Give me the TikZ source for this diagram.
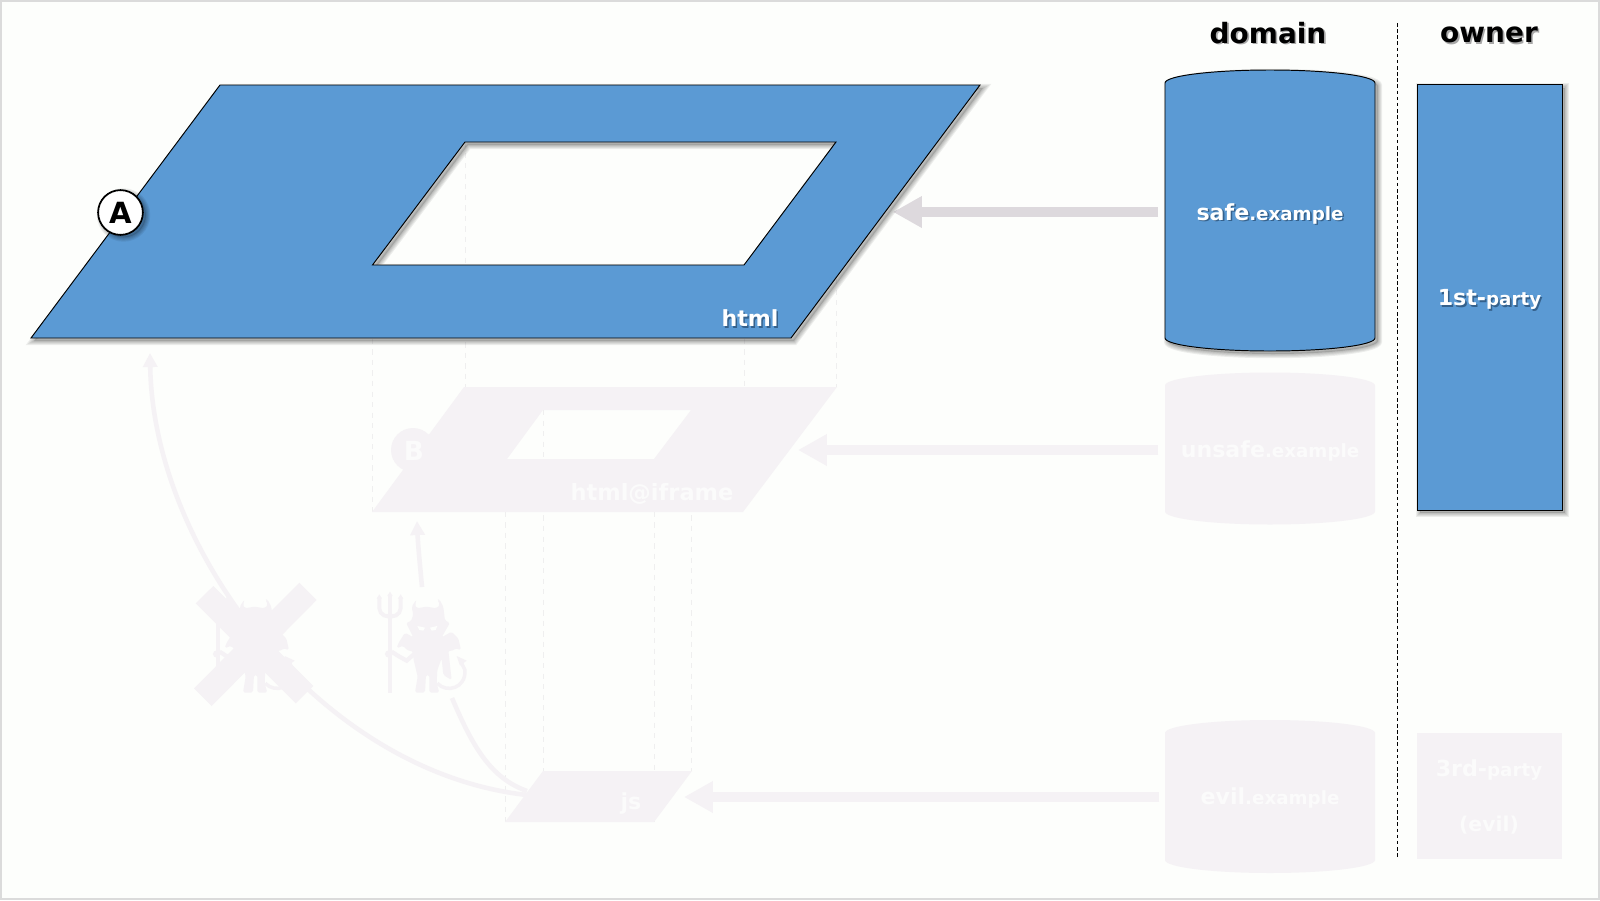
\documentclass[tikz,border=0pt]{standalone}
\usepackage{fontspec}
\setmainfont{DejaVu Sans}
\usetikzlibrary{arrows.meta}
\definecolor{bgc}{HTML}{FDFEFC}
\definecolor{bluec}{HTML}{5B9AD4}
\definecolor{faintc}{HTML}{F5F2F5}
\definecolor{ftxt}{HTML}{FBFBFB}
\definecolor{arrowc}{HTML}{DDD9DD}
\definecolor{guidec}{HTML}{EFEFEF}
\definecolor{tshb}{HTML}{35618C}
\definecolor{tshk}{HTML}{A8A8A8}
\newcommand\bigsz{\fontsize{12.6}{15}\selectfont\bfseries}
\newcommand\smlsz{\fontsize{10.4}{15}\selectfont\bfseries}
\newcommand\headsz{\fontsize{15.9}{19}\selectfont\bfseries}
% text carrying its own drop shadow
\newcommand\shtxt[2]{\leavevmode\rlap{\kern0.9pt\raisebox{-0.9pt}{\textcolor{#1}{#2}}}#2}
\newcommand\softshadow[1]{%
  \begin{scope}[shift={(3,3)}]
    \fill[black,opacity=.14,even odd rule] #1;
    \foreach \w in {1.2,2.4,3.6,4.8}{\draw[black,opacity=.065,line width=\w pt] #1;}
  \end{scope}}
\newcommand\cylpath[2]{(1165,#1+13) .. controls (1165,#1+5.8) and (1212,#1) .. (1270,#1) .. controls (1328,#1) and (1375,#1+5.8) .. (1375,#1+13) -- (1375,#2-13) .. controls (1375,#2-5.8) and (1328,#2) .. (1270,#2) .. controls (1212,#2) and (1165,#2-5.8) .. (1165,#2-13) -- cycle}
\newcommand\devilfig[1]{%
  \begin{scope}[shift={(#1,500)},x=0.02cm/3,y=-0.02cm/3]
    % trident
    \draw[devilline] (720,345) -- (720,578);
    \draw[devilline] (688,292) -- (688,325) .. controls (688,345) and (715,355) .. (720,345) .. controls (725,355) and (752,345) .. (752,325) -- (752,292);
    \draw[devilline] (720,345) -- (720,285);
    \fill[faintc] (680,296) -- (688,283) -- (696,296) -- cycle (712,288) -- (720,275) -- (728,288) -- cycle (744,296) -- (752,283) -- (760,296) -- cycle;
    \fill[faintc] (716,462) circle[radius=11];
    % arm
    \draw[devilline,line width=2.4pt] (725,455) -- (745,468) -- (770,482) -- (795,460);
    % body
    \fill[faintc,rounded corners=1pt] (800,298) -- (785,320) -- (790,345) -- (782,365) -- (768,368) -- (790,412) -- (765,398) -- (745,430) -- (740,445) -- (760,437) -- (770,450) -- (790,455) -- (790,475) -- (803,530) -- (795,578) -- (825,578) -- (828,525) -- (838,525) -- (838,578) -- (868,578) -- (860,550) -- (862,510) -- (875,475) -- (880,525) -- (905,540) -- (895,450) -- (905,455) -- (915,445) -- (933,450) -- (925,415) -- (905,395) -- (875,412) -- (900,368) -- (885,362) -- (880,320) -- (868,298) -- (862,298) -- (870,315) -- (860,325) -- (830,320) -- (800,325) -- (795,315) -- cycle;
    % eyes
    \fill[bgc] (802,378) -- (825,383) -- (820,392) -- (808,390) -- cycle (862,378) -- (840,383) -- (845,392) -- (857,390) -- cycle;
    % tail
    \draw[devilline,line width=2pt] (862,550) .. controls (890,580) and (948,565) .. (945,510) -- (935,490);
    \fill[faintc] (920,468) -- (950,482) -- (930,497) -- cycle;
  \end{scope}}
\tikzset{
  devilline/.style={faintc,line width=2.2pt},
  guide/.style={guidec,line width=0.5pt,dash pattern=on 3pt off 3pt},
  bigarrow/.style={line width=5.67pt,-{Triangle[length=16.5pt,width=17pt]}},
  thinarrow/.style={faintc,line width=2.6pt,-{Triangle[length=8pt,width=8pt]}},
  curveline/.style={faintc,line width=2.6pt},
  lbl/.style={inner sep=0pt,outer sep=0pt,anchor=center},
  solid box/.style={fill=bluec,draw=black,line width=0.55pt,even odd rule}
}
\begin{document}
\begin{tikzpicture}[x=0.02cm,y=-0.02cm]
\useasboundingbox (0,0) rectangle (1600,900);
\fill[bgc] (0,0) rectangle (1600,900);
\draw[color=black!14,line width=0.9pt] (0.8,0.8) rectangle (1599.2,899.2);

% projection guides
\draw[guide] (372.5,265) -- (372.5,512);
\draw[guide] (465,142) -- (465,387);
\draw[guide] (744,265) -- (744,387);
\draw[guide] (836,142) -- (836,387);
\draw[guide] (505,459) -- (505,822);
\draw[guide] (543,410) -- (543,771);
\draw[guide] (654,459) -- (654,822);
\draw[guide] (691,410) -- (691,771);

\coordinate (safeOut) at (1158,212);
\coordinate (htmlIn) at (893,212);
\coordinate (unsafeOut) at (1158,450);
\coordinate (iframeIn) at (798,450);
\coordinate (evilOut) at (1159,797);
\coordinate (jsIn) at (684,797);
\coordinate (jsLeft) at (527,795);
\coordinate (jsLeftB) at (527,791);
\coordinate (htmlUnder) at (150,353);
\coordinate (devilFoot) at (452,698);
\coordinate (devilHead) at (422,587);
\coordinate (iframeUnder) at (417,521);

% faint shapes
\fill[faintc,even odd rule] (464,387) -- (837,387) -- (743,512) -- (372,512) -- cycle (543,410) -- (691,410) -- (654,459) -- (507,459) -- cycle;
\fill[faintc] (413,450) circle[radius=22];
\fill[faintc] (543,771) -- (692,771) -- (654,822) -- (505,822) -- cycle;

% arrows
\draw[bigarrow,arrowc] (safeOut) -- (htmlIn);
\draw[bigarrow,faintc] (unsafeOut) -- (iframeIn);
\draw[bigarrow,faintc] (evilOut) -- (jsIn);
\draw[thinarrow] (jsLeft) .. controls (320,772) and (153,550) .. (htmlUnder);
\draw[curveline] (jsLeftB) .. controls (490,778) and (472,745) .. (devilFoot);
\draw[thinarrow] (devilHead) .. controls (420,565) and (418,545) .. (iframeUnder);

% devils and cross
\devilfig{150}
\devilfig{-22}
\fill[faintc] (299.3,582.7) -- (316.7,600) -- (211.7,706) -- (194,688.3) -- cycle;
\fill[faintc] (213.3,586) -- (195.7,603.3) -- (295.7,703.3) -- (313.3,686) -- cycle;

% html plane
\def\pathA{(220,85) -- (980,85) -- (791,338) -- (31,338) -- cycle (465,142) -- (836,142) -- (744,265) -- (372.5,265) -- cycle}
\softshadow{\pathA}
\path[solid box] \pathA;

% domains
\softshadow{\cylpath{70}{351}}
\path[solid box] \cylpath{70}{351};
\fill[faintc] \cylpath{372.5}{524.5};
\fill[faintc] \cylpath{720}{873};

% owner
\softshadow{(1417,84.5) rectangle (1562,510)}
\path[solid box] (1417,84.5) rectangle (1562,510);
\fill[faintc] (1417,733) rectangle (1562,859);

\draw[black,line width=0.5pt,dash pattern=on 2pt off 1.5pt] (1397,23) -- (1397,858);

% badge A
\softshadow{(120.5,212) circle[radius=22.5]}
\node[draw=black,fill=white,circle,line width=1pt,minimum size=25.5pt,inner sep=0pt,font=\fontsize{16.6}{19}\selectfont\bfseries] (badgeA) at (120.5,212.5) {A};
\node[lbl,text=ftxt,font=\fontsize{15}{18}\selectfont\bfseries] (badgeB) at (414,451) {B};

% labels
\node[lbl,font=\headsz] (headDomain) at (1268,33.5) {\shtxt{tshk}{domain}};
\node[lbl,font=\headsz] (headOwner) at (1489,36) {\shtxt{tshk}{owner}};
\node[lbl,text=white,font=\bigsz] (lblHtml) at (750,319) {\shtxt{tshb}{html}};
\node[lbl,text=white] (lblSafe) at (1270,214.5) {\shtxt{tshb}{\bigsz safe\smlsz .example}};
\node[lbl,text=white] (lblFirst) at (1489.5,300.5) {\shtxt{tshb}{\bigsz 1st-\smlsz party}};
\node[lbl,text=ftxt,font=\fontsize{12.8}{16}\selectfont\bfseries] (lblIframe) at (652,493.5) {html@iframe};
\node[lbl,text=ftxt] (lblUnsafe) at (1270,451) {\bigsz unsafe\smlsz .example};
\node[lbl,text=ftxt] (lblEvil) at (1270,798) {\bigsz evil\smlsz .example};
\node[lbl,text=ftxt] (lblThird) at (1489,770) {\bigsz 3rd-\smlsz party};
\node[lbl,text=ftxt] (lblThirdB) at (1489,825) {\fontsize{11.6}{15}\selectfont\bfseries (evil)};
\node[lbl,text=ftxt,font=\bigsz] (lblJs) at (631,803) {js};
\end{tikzpicture}
\end{document}
